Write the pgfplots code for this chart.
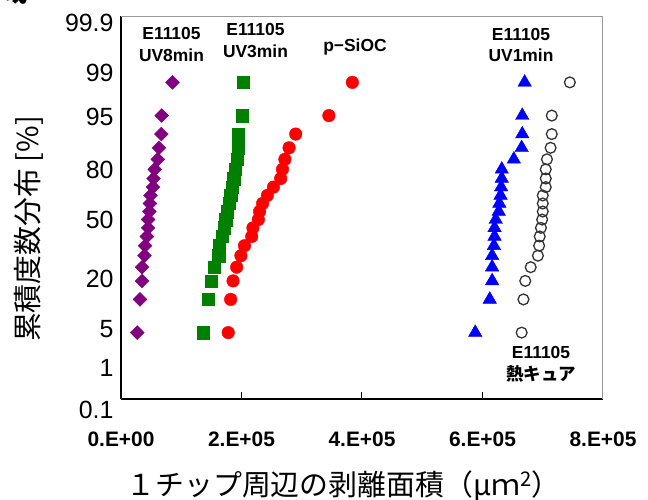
\documentclass[border=0pt]{standalone}
\usepackage{fontspec}
\setmainfont{Liberation Sans}
\newfontfamily\jp{Noto Sans CJK JP}
\usepackage{pgfplots}
\pgfplotsset{compat=1.18}
\definecolor{mpurple}{HTML}{800080}
\definecolor{mgreen}{HTML}{008000}
\definecolor{mred}{HTML}{FF0000}
\definecolor{mblue}{HTML}{0000FF}
\definecolor{mblack}{HTML}{333333}
\definecolor{frame}{HTML}{999999}
\begin{document}
\begin{tikzpicture}
\path[use as bounding box] (-121bp,-101bp) rectangle (527bp,399bp);
\node[font=\jp\bfseries\fontsize{30}{30}\selectfont, anchor=base west, inner sep=0pt] at (-124bp,397bp) {域};
\begin{axis}[
  scale only axis, width=482bp, height=383bp,
  xmin=0, xmax=800000, ymin=-3, ymax=3,
  axis lines*=left,
  axis line style={line width=1.3bp, black},
  clip=false,
  xtick={0,200000,400000,600000,800000},
  xticklabels={0.E+00,2.E+05,4.E+05,6.E+05,8.E+05},
  scaled x ticks=false,
  tick align=inside,
  major tick length=7bp,
  xtick style={line width=1bp, black},
  xticklabel style={font=\bfseries\fontsize{21}{21}\selectfont, yshift=-29bp},
  ytick={-2.517,-1.90,-1.12,-0.196,0.587,1.418,2.107,2.89},
  yticklabels={1,5,20,50,80,95,99,99.9},
  ytick style={draw=none},
  yticklabel style={font=\fontsize{25}{25}\selectfont, xshift=-4bp},
  xlabel={１チップ周辺の剥離面積（μｍ\textsuperscript{2}）},
  x label style={at={(axis description cs:0.462,-0.227)}, anchor=center, font=\jp\fontsize{29}{29}\selectfont},
  ylabel={累積度数分布 [\%]},
  y label style={at={(axis description cs:-0.191,0.444)}, anchor=center, font=\jp\fontsize{29}{29}\selectfont},
]
% E11105 UV8min
\addplot[only marks, mark=square*, mark size=4.9bp, mark options={rotate=45, fill=mpurple, draw=mpurple}] coordinates {
(27000,-1.960) (31500,-1.440) (35000,-1.150) (35000,-0.935) (39000,-0.755)
(40000,-0.598) (43000,-0.454) (45000,-0.319) (45000,-0.189) (47000,-0.063)
(48000,0.063) (49000,0.189) (53000,0.319) (54000,0.454) (56000,0.598)
(61000,0.755) (63000,0.935) (67000,1.150) (67500,1.440) (85500,1.960)};
% E11105 UV3min
\addplot[only marks, mark=square*, mark size=6.2bp, mark options={fill=mgreen, draw=mgreen}] coordinates {
(136000,-1.960) (145000,-1.440) (150000,-1.150) (155000,-0.935) (162000,-0.755)
(163000,-0.598) (168000,-0.454) (171000,-0.319) (174000,-0.189) (176000,-0.063)
(180000,0.063) (182000,0.189) (185000,0.319) (187000,0.454) (190000,0.598)
(193000,0.755) (195000,0.935) (195000,1.150) (201000,1.440) (203000,1.960)};
% p-SiOC
\addplot[only marks, mark=*, mark size=6.3bp, mark options={fill=mred, draw=mred}] coordinates {
(178000,-1.960) (182000,-1.440) (186000,-1.150) (192000,-0.935) (199000,-0.755)
(205000,-0.598) (217000,-0.454) (219000,-0.319) (228000,-0.189) (230000,-0.063)
(235000,0.063) (243000,0.189) (253000,0.319) (265000,0.454) (268000,0.598)
(272000,0.755) (279000,0.935) (290000,1.150) (345000,1.440) (384000,1.960)};
% E11105 UV1min
\addplot[only marks, mark=triangle*, mark size=7.8bp, mark options={fill=mblue, draw=mblue}] coordinates {
(588000,-1.960) (612000,-1.440) (616000,-1.150) (616000,-0.935) (616000,-0.755)
(619000,-0.598) (620000,-0.454) (620000,-0.319) (622000,-0.189) (627000,-0.063)
(628000,0.063) (630000,0.189) (631000,0.319) (632000,0.454) (632000,0.598)
(652000,0.755) (665000,0.935) (666000,1.150) (666000,1.440) (670000,1.960)};
% E11105 thermal cure
\addplot[only marks, mark=o, mark size=5.4bp, mark options={draw=mblack, line width=1.3bp}] coordinates {
(665000,-1.960) (668000,-1.440) (671000,-1.150) (680000,-0.935) (692000,-0.755)
(694000,-0.598) (695000,-0.454) (697000,-0.319) (699000,-0.189) (700000,-0.063)
(700000,0.063) (700000,0.189) (705000,0.319) (705000,0.454) (705000,0.598)
(707000,0.755) (713000,0.935) (715000,1.150) (715000,1.440) (745000,1.960)};
\draw[frame, line width=1bp] (rel axis cs:0,1) -- (rel axis cs:1,1) -- (rel axis cs:1,0);
\node[font=\fontsize{25}{25}\selectfont, anchor=east, xshift=-4bp] at (axis cs:0,-3.17) {0.1};
\node[font=\bfseries\fontsize{17.5}{22}\selectfont, align=center] at (axis cs:83800,2.56) {E11105\\UV8min};
\node[font=\bfseries\fontsize{17.5}{22}\selectfont, align=center] at (axis cs:223200,2.61) {E11105\\UV3min};
\node[font=\bfseries\fontsize{17.5}{22}\selectfont, align=center] at (axis cs:388400,2.515) {p−SiOC};
\node[font=\bfseries\fontsize{17.5}{22}\selectfont, align=center] at (axis cs:663900,2.546) {E11105\\UV1min};
\node[font=\bfseries\fontsize{17.5}{22}\selectfont, align=center] at (axis cs:697100,-2.452) {E11105\\{\jp\bfseries 熱キュア}};
\end{axis}
\end{tikzpicture}
\end{document}
